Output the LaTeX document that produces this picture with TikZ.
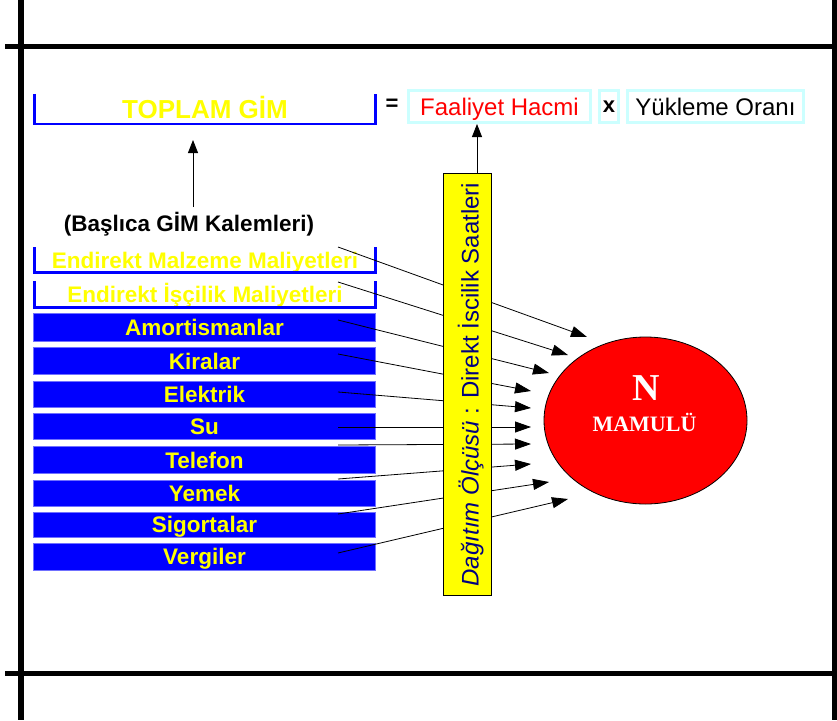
\documentclass[tikz,border=0pt]{standalone}
\usepackage{fontspec}
\setmainfont{Liberation Sans}
\newfontfamily\timesf{Liberation Serif}
\usetikzlibrary{arrows.meta,shapes.geometric}
\definecolor{pblue}{HTML}{0000FF}
\definecolor{pyellow}{HTML}{FFFF00}
\definecolor{pred}{HTML}{FF0000}
\definecolor{pcyan}{HTML}{CCFFFF}
\definecolor{pnavy}{HTML}{000080}
\definecolor{pedge}{HTML}{7070FF}
\begin{document}
\begin{tikzpicture}[x=1pt,y=-1pt,
  frame/.style={line width=5pt,black},
  itembox/.style={rectangle,fill=pblue,draw=pedge,line width=0.8pt,
    minimum width=342pt,minimum height=26pt,inner sep=0pt,text=pyellow,
    font=\bfseries\fontsize{22.5}{24}\selectfont,text height=16pt,text depth=0pt},
  brbox/.style={rectangle,minimum width=341pt,inner sep=0pt,text=pyellow,
    font=\bfseries\fontsize{22.5}{24}\selectfont,text height=16pt,text depth=0pt},
  brline/.style={draw=pblue,line width=2.5pt},
  cybox/.style={rectangle,draw=pcyan,line width=3pt,minimum height=32pt,inner sep=0pt,
    font=\fontsize{24}{26}\selectfont,text height=17pt,text depth=0pt},
  conn/.style={line width=0.8pt,black,-{Triangle[length=16pt,width=11pt]}},
  arr/.style={line width=0.8pt,black,-{Triangle[length=13pt,width=10pt]}}
]
\useasboundingbox (0,0) rectangle (837,720);
% frame lines
\draw[frame] (5,46) -- (837,46);
\draw[frame] (5,673) -- (837,673);
\draw[line width=6pt] (20.5,0) -- (20.5,720);
\draw[line width=5pt] (834.5,0) -- (834.5,720);

% top formula
\node[brbox,minimum height=30pt,font=\bfseries\fontsize{26}{28}\selectfont,text height=19pt] (tg) at (205,109) {TOPLAM GİM};
\draw[brline] (tg.north west) -- (tg.south west) -- (tg.south east) -- (tg.north east);
\node[font=\bfseries\fontsize{22}{24}\selectfont,inner sep=0pt] (eq) at (392,105) {=};
\node[cybox,minimum width=182pt,text=pred] (fh) at (499.5,106.5) {Faaliyet Hacmi};
\node[cybox,minimum width=19pt,font=\bfseries\fontsize{22}{24}\selectfont,text height=11pt] (xx) at (609,106.5) {x};
\node[cybox,minimum width=176pt] (yo) at (715.5,106.5) {Yükleme Oranı};

% main cost items label
\node[font=\bfseries\fontsize{22.5}{24}\selectfont,text height=16pt,text depth=0pt,inner sep=0pt] (bk) at (189,223) {(Başlıca GİM Kalemleri)};
\coordinate (b1) at (193,207);
\coordinate (b2) at (193,140);
\draw[arr] (b1) -- (b2);

% brackets
\node[brbox,minimum height=25pt] (em) at (205,260) {Endirekt Malzeme Maliyetleri};
\draw[brline] (em.north west) -- (em.south west) -- (em.south east) -- (em.north east);
\node[brbox,minimum height=26pt] (ei) at (205,294.5) {Endirekt İşçilik Maliyetleri};
\draw[brline] (ei.north west) -- (ei.south west) -- (ei.south east) -- (ei.north east);

% blue items
\node[itembox,minimum height=28pt] (am) at (204.5,327.5) {Amortismanlar};
\node[itembox,minimum height=27pt] (ki) at (204.5,361) {Kiralar};
\node[itembox] (el) at (204.5,394) {Elektrik};
\node[itembox] (su) at (204.5,426.5) {Su};
\node[itembox,minimum height=27pt] (te) at (204.5,460) {Telefon};
\node[itembox] (ye) at (204.5,493) {Yemek};
\node[itembox,minimum height=25pt] (si) at (204.5,524.5) {Sigortalar};
\node[itembox,minimum height=27pt] (ve) at (204.5,556.5) {Vergiler};

% connector end points
\coordinate (s1) at (338,247);  \coordinate (t1) at (587,337);
\coordinate (s2) at (338,282);  \coordinate (t2) at (568,355);
\coordinate (s3) at (338,320);  \coordinate (t3) at (549,373);
\coordinate (s4) at (338,354);  \coordinate (t4) at (531,391);
\coordinate (s5) at (338,392);  \coordinate (t5) at (531,408);
\coordinate (s6) at (338,427);  \coordinate (t6) at (531,427);
\coordinate (s7) at (338,445);  \coordinate (t7) at (531,444);
\coordinate (s8) at (338,479);  \coordinate (t8) at (531,464);
\coordinate (s9) at (338,514);  \coordinate (t9) at (549,482);
\coordinate (s10) at (338,553); \coordinate (t10) at (568,499);
\foreach \i in {1,...,10} {\draw[conn] (s\i) -- (t\i);}

% yellow bar
\node[rectangle,draw=black,fill=pyellow,line width=0.8pt,minimum width=48pt,minimum height=422pt,inner sep=0pt] (bar) at (467.5,384.5) {};
\node[rotate=90,text=pnavy,font=\fontsize{24}{26}\selectfont,text height=17pt,text depth=0pt,inner sep=0pt] (bt) at (470,384.5) {\textit{Dağıtım Ölçüsü} : Direkt İscilik Saatleri};
\coordinate (fa) at (477,173);
\draw[arr] (fa) -- (fa |- fh.south);

% product ellipse
\node[ellipse,fill=pred,draw=black,line width=0.8pt,minimum width=203pt,minimum height=167pt,inner sep=0pt] (mm) at (645.5,420.5) {};
\node[text=white,font=\timesf\bfseries\fontsize{38}{40}\selectfont,inner sep=0pt,text height=25pt,text depth=0pt] (nn) at (646,387.5) {N};
\node[text=white,font=\timesf\bfseries\fontsize{22}{24}\selectfont,inner sep=0pt,text height=15pt,text depth=0pt] (ml) at (644.5,424) {MAMULÜ};
\end{tikzpicture}
\end{document}
